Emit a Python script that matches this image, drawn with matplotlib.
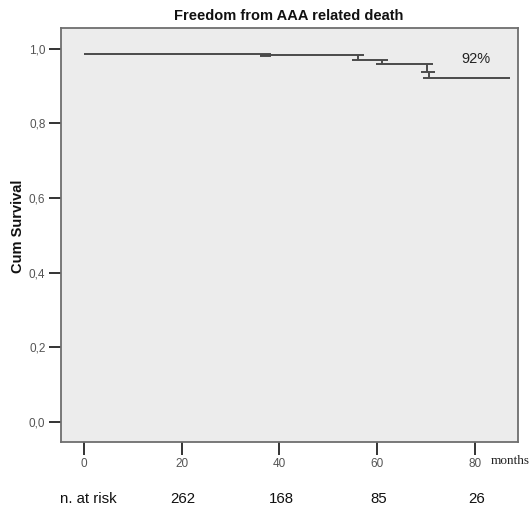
import matplotlib
matplotlib.use("Agg")
import matplotlib.pyplot as plt

# Kaplan-Meier estimate: freedom from AAA related death
times = [0, 36.0, 38.2, 56.1, 61.0, 70.2, 70.6]
surv = [0.986, 0.983, 0.982, 0.971, 0.959, 0.938, 0.921]
end_time = 87.1
x_ticks = [0, 20, 40, 60, 80]
y_ticks = [0.0, 0.2, 0.4, 0.6, 0.8, 1.0]
y_tick_labels = ["0,0", "0,2", "0,4", "0,6", "0,8", "1,0"]
risk_times = [20, 40, 60, 80]
risk_counts = [262, 168, 85, 26]

plt.rcParams["font.family"] = ["Liberation Sans", "DejaVu Sans"]

fig = plt.figure(figsize=(5.31, 5.11), dpi=100)
W, H = 531, 511
ax = fig.add_axes([60.7 / W, 1 - 442.3 / H, (517.5 - 60.7) / W, (442.3 - 28.3) / H])
ax.set_facecolor("#ececec")
for s in ax.spines.values():
    s.set_color("#6e6e6e")
    s.set_linewidth(1.3)

line_kw = dict(color="#4a4a4a", lw=1.4, solid_capstyle="butt")

# horizontal segments between events
xs = times + [end_time]
for i, s in enumerate(surv):
    lw = 2.8 if i == 1 else 1.4
    ax.plot([xs[i], xs[i + 1]], [s, s], color="#4a4a4a", lw=lw, solid_capstyle="butt")

# vertical drops with short caps
cap = 1.2
for i in range(3, len(times)):
    t = times[i]
    hi, lo = surv[i - 1], surv[i]
    ax.plot([t, t], [hi, lo], **line_kw)
    ax.plot([t - 0.1, t + cap], [hi, hi], **line_kw)
    ax.plot([t - cap, t], [lo, lo], **line_kw)

ax.text(80.2, 0.972, "92%", fontsize=10.5, ha="center", va="center", color="#222222")

ax.set_xlim(-4.7, 88.7)
ax.set_ylim(-0.0544, 1.0546)
ax.set_xticks(x_ticks)
ax.set_xticklabels([str(v) for v in x_ticks])
ax.set_yticks(y_ticks)
ax.set_yticklabels(y_tick_labels)
ax.tick_params(axis="both", direction="out", length=9, width=1.4, color="#333333",
               labelsize=8.5, labelcolor="#555555")
ax.tick_params(axis="x", pad=2)
ax.tick_params(axis="y", pad=2)

ax.set_title("Freedom from AAA related death", fontsize=10.5, fontweight="bold", pad=6, color="#111111")
fig.text(18 / W, 1 - 226 / H, "Cum Survival", fontsize=10.5, fontweight="bold", rotation=90,
         ha="center", va="center", color="#111111")

fig.text(510 / W, 1 - 461 / H, "months", fontsize=9.5, family=["Liberation Serif", "DejaVu Serif"],
         ha="center", va="center", color="#222222")

fig.text(60 / W, 1 - 499 / H, "n. at risk", fontsize=10.8, ha="left", va="center", color="#111111")
for t, n in zip(risk_times, risk_counts):
    fig.text((83 + t * 4.9 + 2) / W, 1 - 499 / H, str(n), fontsize=10.8, ha="center", va="center", color="#111111")

fig.savefig("out.png", dpi=100)
